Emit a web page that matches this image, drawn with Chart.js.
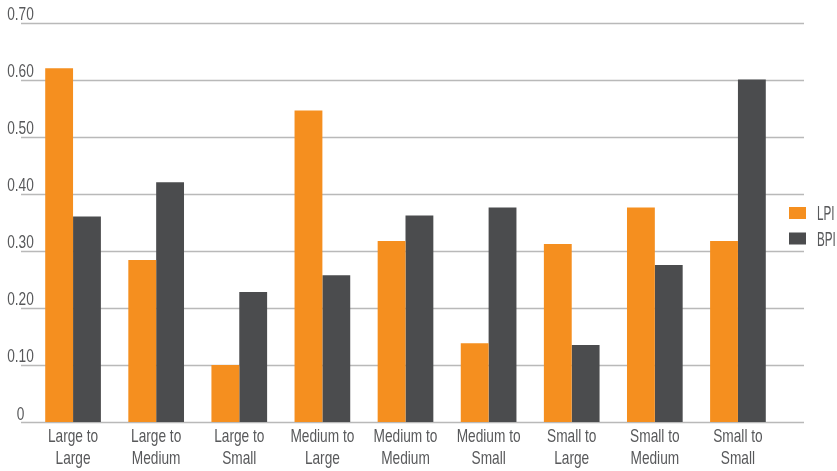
<!DOCTYPE html>
<html>
<head>
<meta charset="utf-8">
<script src="https://cdn.jsdelivr.net/npm/chart.js@4/dist/chart.umd.min.js"></script>
<style>
  html, body { margin: 0; padding: 0; background: #fff; }
  #wrap { width: 837px; height: 471px; position: relative; }
</style>
</head>
<body>
<div id="wrap"><canvas id="chart"></canvas></div>
<script>
// data
const categories = [
  ['Large to', 'Large'], ['Large to', 'Medium'], ['Large to', 'Small'],
  ['Medium to', 'Large'], ['Medium to', 'Medium'], ['Medium to', 'Small'],
  ['Small to', 'Large'], ['Small to', 'Medium'], ['Small to', 'Small']
];
const lpiValues = [0.62, 0.284, 0.10, 0.546, 0.317, 0.138, 0.312, 0.376, 0.317];
const bpiValues = [0.36, 0.420, 0.228, 0.257, 0.362, 0.376, 0.135, 0.275, 0.60];
const yTicks = [0, 0.1, 0.2, 0.3, 0.4, 0.5, 0.6, 0.7];

const FONT = "'Liberation Sans', Arial, sans-serif";
const TEXT_COLOR = '#58595b';

// the original uses a condensed face; squeeze a normal one
function narrowText(ctx, text, x, y, align, squeeze) {
  ctx.save();
  ctx.translate(x, y);
  ctx.scale(squeeze, 1);
  ctx.textAlign = align;
  ctx.fillText(text, 0, 0);
  ctx.restore();
}

// gridlines wider than the bar area, tick labels sitting on top of them, legend at right
const decor = {
  id: 'decor',
  beforeDatasetsDraw(chart) {
    const ctx = chart.ctx;
    const y = chart.scales.y;
    ctx.save();
    ctx.strokeStyle = '#b9b9b9';
    ctx.lineWidth = 1.5;
    yTicks.forEach(v => {
      const py = Math.round(y.getPixelForValue(v)) + 0.5;
      ctx.beginPath();
      ctx.moveTo(21, py);
      ctx.lineTo(804, py);
      ctx.stroke();
    });
    ctx.restore();
  },
  afterDraw(chart) {
    const ctx = chart.ctx;
    const x = chart.scales.x;
    const y = chart.scales.y;
    ctx.save();
    ctx.fillStyle = TEXT_COLOR;
    ctx.textBaseline = 'alphabetic';
    ctx.font = '18px ' + FONT;
    yTicks.forEach(v => {
      const py = y.getPixelForValue(v);
      narrowText(ctx, v === 0 ? '0' : v.toFixed(2), 20.5, py - 2.5, 'center', 0.76);
    });
    // category labels, two lines each
    ctx.font = '18.5px ' + FONT;
    categories.forEach((lines, i) => {
      const px = x.getPixelForValue(i);
      lines.forEach((t, j) => narrowText(ctx, t, px, 441.5 + j * 22.8, 'center', 0.74));
    });
    // legend
    ctx.font = '19.5px ' + FONT;
    chart.data.datasets.forEach((ds, i) => {
      const cy = 213 + i * 25.5;
      ctx.fillStyle = ds.backgroundColor;
      ctx.fillRect(789, cy - 6, 17, 12);
      ctx.fillStyle = TEXT_COLOR;
      narrowText(ctx, ds.label, 817, cy + 7, 'left', 0.6);
    });
    ctx.restore();
  }
};

new Chart(document.getElementById('chart'), {
  type: 'bar',
  data: {
    labels: categories.map(l => l.join(' ')),
    datasets: [
      { label: 'LPI', data: lpiValues, backgroundColor: '#f58f1f' },
      { label: 'BPI', data: bpiValues, backgroundColor: '#4b4c4e' }
    ]
  },
  options: {
    responsive: true,
    maintainAspectRatio: false,
    animation: false,
    layout: { padding: { left: 31.5, right: 57.5, top: 22.5, bottom: 49 } },
    plugins: { legend: { display: false }, tooltip: { enabled: false } },
    datasets: { bar: { categoryPercentage: 0.67, barPercentage: 1 } },
    scales: {
      x: { display: false },
      y: { display: false, min: 0, max: 0.7 }
    }
  },
  plugins: [decor]
});
</script>
</body>
</html>
